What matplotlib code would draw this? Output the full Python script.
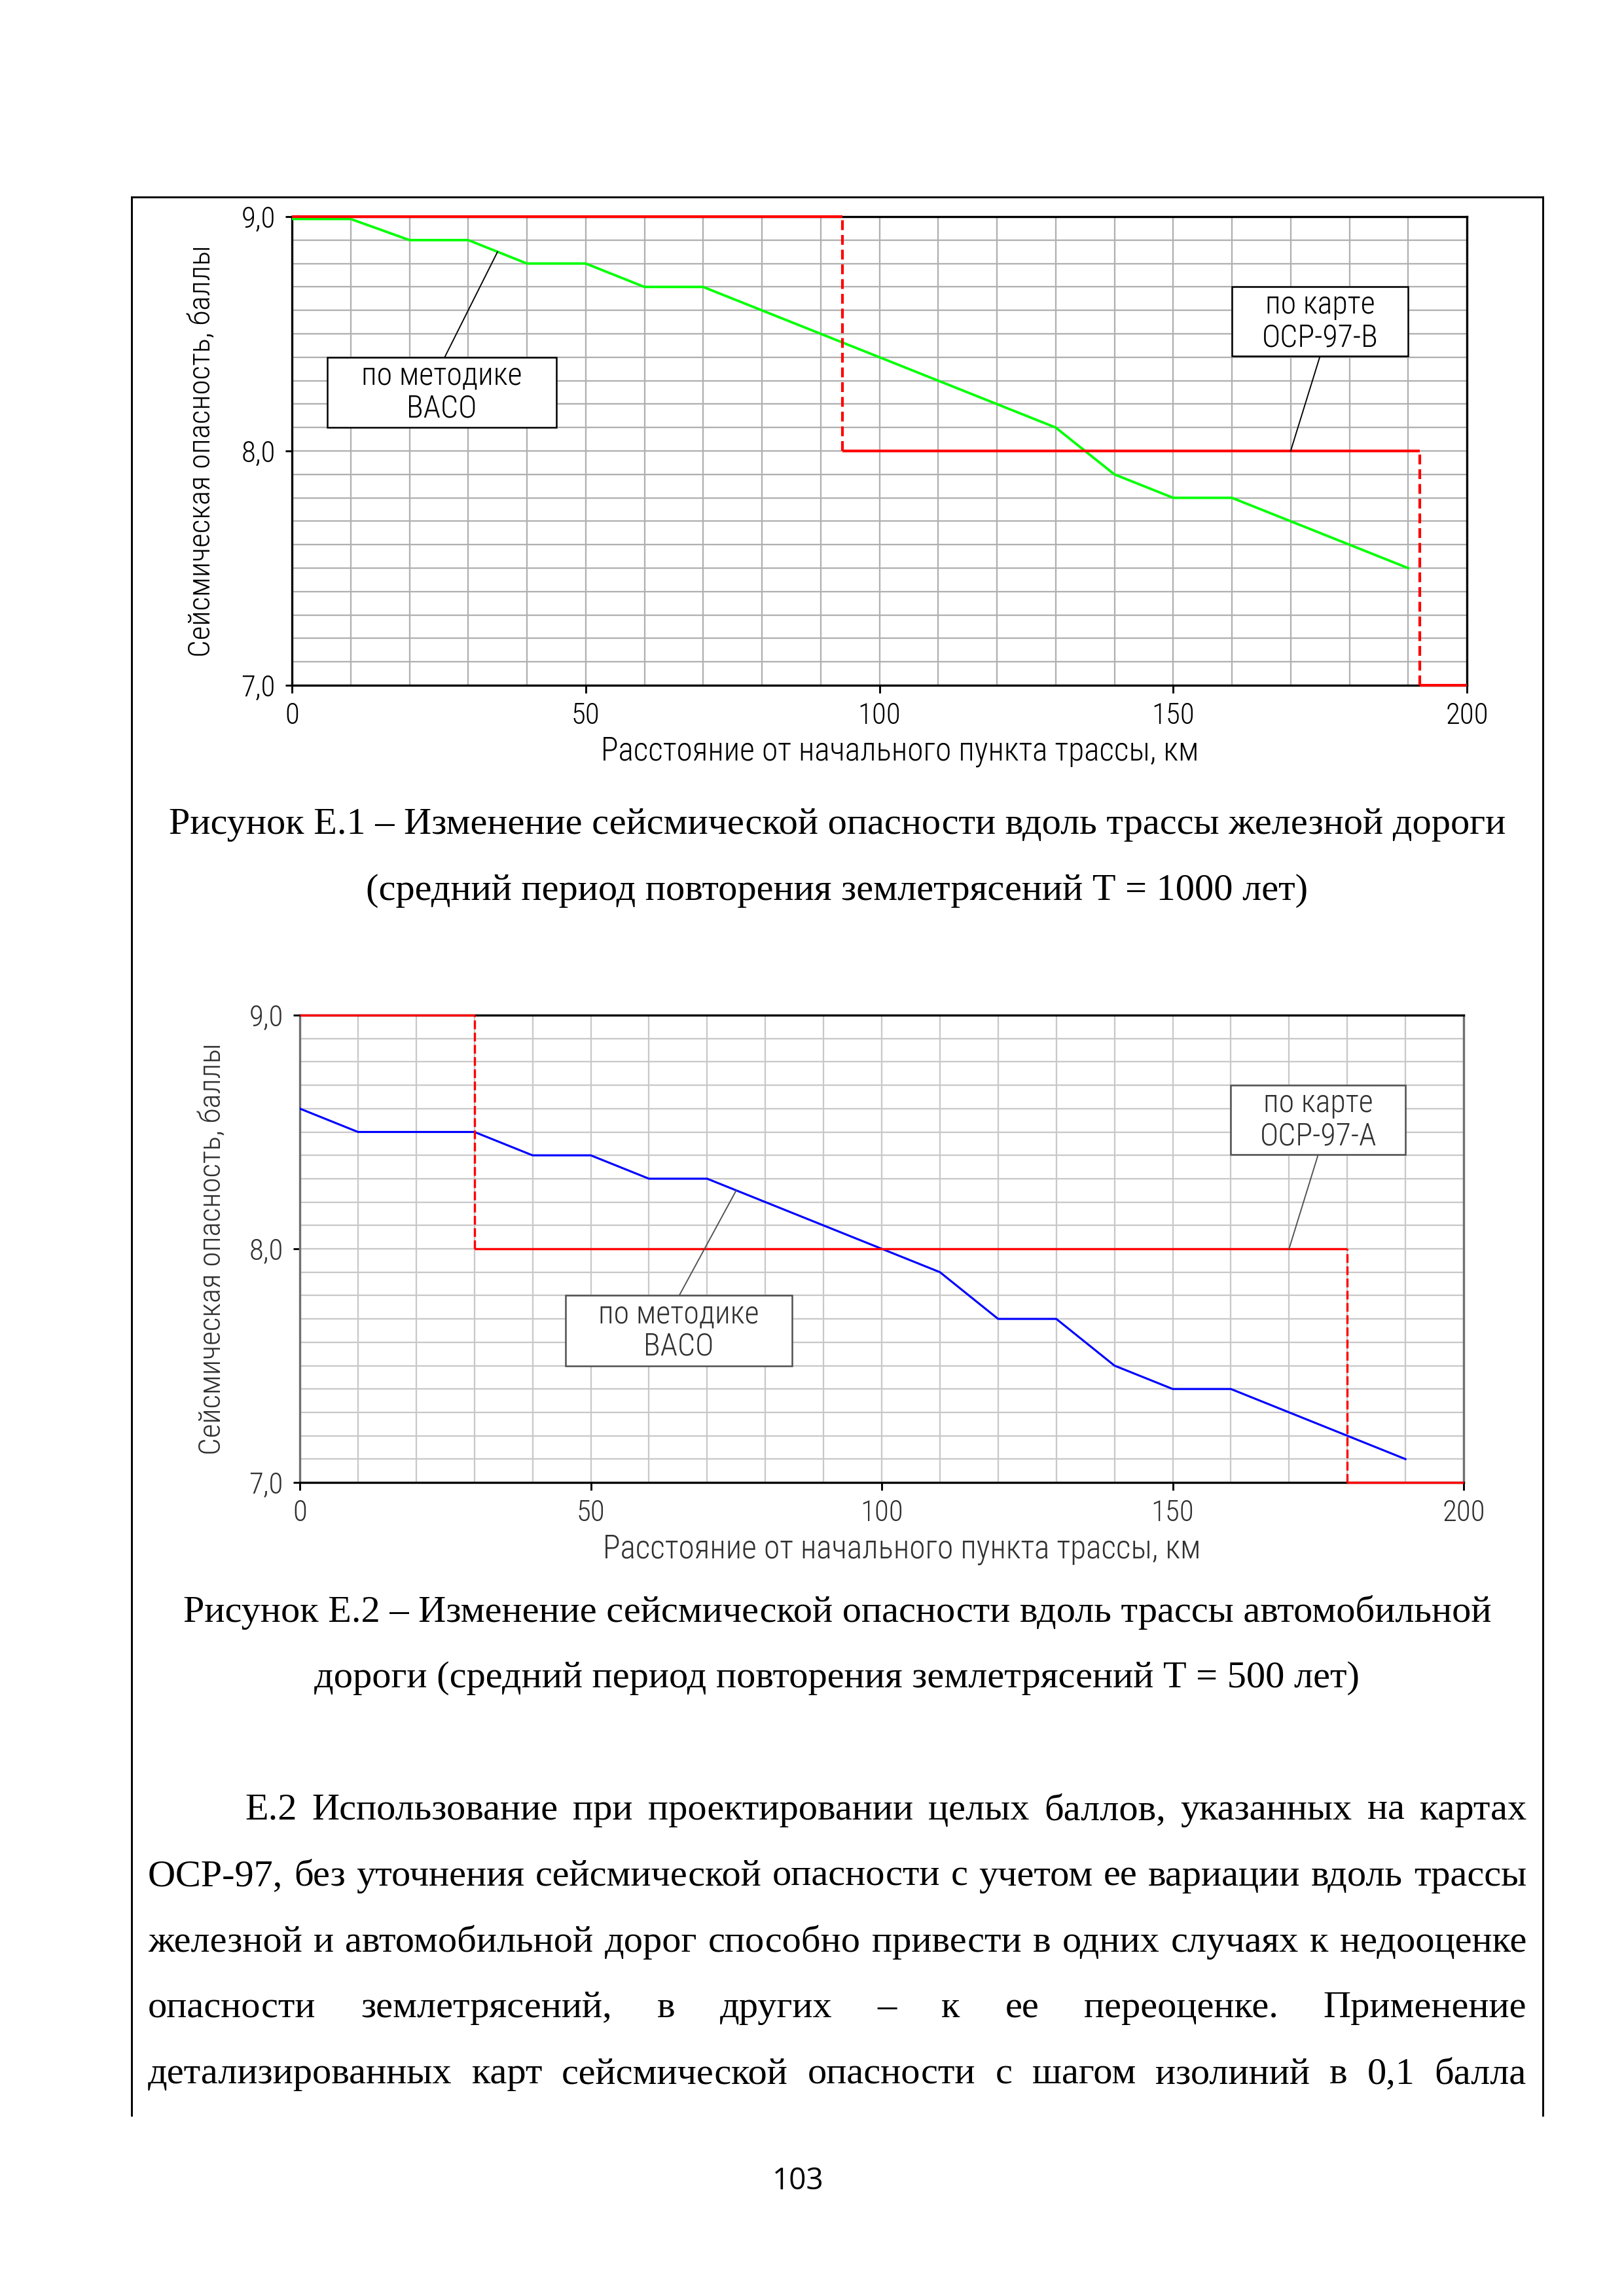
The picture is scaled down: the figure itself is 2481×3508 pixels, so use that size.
import numpy as np
import matplotlib
matplotlib.use("Agg")
import matplotlib.pyplot as plt
from matplotlib import font_manager
from matplotlib.font_manager import FontProperties
from matplotlib.lines import Line2D
from matplotlib.patches import Rectangle

# ------------------------------------------------------------------ data
km = [0, 10, 20, 30, 40, 50, 60, 70, 80, 90, 100,
      110, 120, 130, 140, 150, 160, 170, 180, 190]
hazard_rail = [8.99, 8.99, 8.9, 8.9, 8.8, 8.8, 8.7, 8.7, 8.6, 8.5, 8.4,
               8.3, 8.2, 8.1, 7.9, 7.8, 7.8, 7.7, 7.6, 7.5]          # по методике ВАСО, T=1000
hazard_road = [8.6, 8.5, 8.5, 8.5, 8.4, 8.4, 8.3, 8.3, 8.2, 8.1, 8.0,
               7.9, 7.7, 7.7, 7.5, 7.4, 7.4, 7.3, 7.2, 7.1]          # по методике ВАСО, T=500
osr_b_edges = [0, 93.7, 192, 200]      # ОСР-97-В zones (km)
osr_b_levels = [9.0, 8.0, 7.0]
osr_a_edges = [0, 30, 180, 200]        # ОСР-97-А zones (km)
osr_a_levels = [9.0, 8.0, 7.0]

x_ticks = [0, 50, 100, 150, 200]
x_tick_labels = ["0", "50", "100", "150", "200"]
y_ticks = [7.0, 8.0, 9.0]
y_tick_labels = ["7,0", "8,0", "9,0"]

y_title = "Сейсмическая опасность, баллы"
x_title = "Расстояние от начального пункта трассы, км"
caption1 = ["Рисунок Е.1 – Изменение сейсмической опасности вдоль трассы железной дороги",
            "(средний период повторения землетрясений Т = 1000 лет)"]
caption2 = ["Рисунок Е.2 – Изменение сейсмической опасности вдоль трассы автомобильной",
            "дороги (средний период повторения землетрясений Т = 500 лет)"]
body = ["Е.2 Использование при проектировании целых баллов, указанных на картах",
        "ОСР-97, без уточнения сейсмической опасности с учетом ее вариации вдоль трассы",
        "железной и автомобильной дорог способно привести в одних случаях к недооценке",
        "опасности землетрясений, в других – к ее переоценке. Применение",
        "детализированных карт сейсмической опасности с шагом изолиний в 0,1 балла"]
page_no = "103"

# annotations: (text lines, box x0, x1, y0, y1, leader from (x,y) to (x,y))
notes1 = [(["по методике", "ВАСО"], 6, 45, 8.1, 8.4, (26, 8.4), (35, 8.85)),
          (["по карте", "ОСР-97-В"], 160, 190, 8.405, 8.7, (175, 8.405), (170, 8.0))]
notes2 = [(["по методике", "ВАСО"], 45.7, 84.6, 7.5, 7.8, (65.2, 7.8), (75, 8.25)),
          (["по карте", "ОСР-97-А"], 160, 190, 8.403, 8.7, (175, 8.403), (170, 8.0))]

# ------------------------------------------------------------------ fonts
entries = font_manager.fontManager.ttflist
names = {f.name for f in entries}


def _w(f):
    try:
        return int(f.weight)
    except Exception:
        return {"light": 300, "normal": 400, "regular": 400}.get(str(f.weight), 500)


TECH_FILE = None
pref = ["Liberation Sans Narrow", "Roboto Condensed", "Noto Sans Condensed",
        "Open Sans Condensed", "Noto Sans Display Condensed", "Arimo Narrow"]
for p in pref:
    c = [f for f in entries if f.name == p and f.style == "normal" and 300 <= _w(f) <= 400]
    if c:
        TECH_FILE = sorted(c, key=lambda f: abs(_w(f) - 300))[0].fname
        break
if TECH_FILE is None:
    c = [f for f in entries if f.style == "normal" and 300 <= _w(f) <= 400 and
         (("Condensed" in f.name or "Narrow" in f.name or "condensed" in str(f.stretch)))
         and any(k in f.name for k in ("Noto Sans", "Roboto", "Open Sans", "Liberation", "Lato", "Inter"))
         and "Mono" not in f.name and "CJK" not in f.name]
    if c:
        TECH_FILE = sorted(c, key=lambda f: abs(_w(f) - 300))[0].fname


def tech(size):
    if TECH_FILE:
        return FontProperties(fname=TECH_FILE, size=size)
    return FontProperties(family="Lato" if "Lato" in names else "DejaVu Sans", size=size)


SERIF = "Liberation Serif" if "Liberation Serif" in names else "DejaVu Serif"
SANS = "Open Sans" if "Open Sans" in names else "DejaVu Sans"

W, H, DPI = 2481, 3508, 300
fig = plt.figure(figsize=(W / DPI, H / DPI), dpi=DPI)
fig.patch.set_facecolor("white")


def fx(x):
    return x / W


def fy(y):
    return 1 - y / H


def px_axes(l, r, t, b):
    return [fx(l), fy(b), (r - l) / W, (b - t) / H]


# page frame
for xs, ys in [((201, 201), (301, 3232)), ((201, 2357), (301, 301)), ((2357, 2357), (301, 3232))]:
    fig.add_artist(Line2D([fx(v) for v in xs], [fy(v) for v in ys], color="black",
                          lw=0.7, transform=fig.transFigure))


def setup(ax, grid_color, side_color, txt_color):
    ax.set_xlim(0, 200)
    ax.set_ylim(7, 9)
    ax.set_xticks(x_ticks)
    ax.set_xticklabels(x_tick_labels)
    ax.set_xticks(np.arange(0, 201, 10), minor=True)
    ax.set_yticks(y_ticks)
    ax.set_yticklabels(y_tick_labels)
    ax.set_yticks(np.linspace(7, 9, 21), minor=True)
    ax.grid(which="both", color=grid_color, lw=0.55)
    ax.set_axisbelow(True)
    ax.tick_params(axis="x", which="major", direction="out", length=2.9, width=0.7,
                   pad=3.3, labelcolor=txt_color)
    ax.tick_params(axis="y", which="major", direction="out", length=2.4, width=0.7,
                   pad=3.6, labelcolor=txt_color)
    ax.tick_params(which="minor", length=0)
    for lab in ax.get_xticklabels() + ax.get_yticklabels():
        lab.set_fontproperties(tech(10.8))
    for s in ["top", "bottom"]:
        ax.spines[s].set_color("black")
        ax.spines[s].set_linewidth(0.8)
    for s in ["left", "right"]:
        ax.spines[s].set_color(side_color)
        ax.spines[s].set_linewidth(0.8)


def draw_steps(ax, edges, levels, lw, dashes):
    for i, lev in enumerate(levels):
        ax.hlines(lev, edges[i], edges[i + 1], colors="#ff0000", lw=lw, zorder=5, clip_on=False)
    for i in range(1, len(levels)):
        ax.vlines(edges[i], levels[i], levels[i - 1], colors="#ff0000", lw=lw,
                  linestyles=[(0, dashes)], zorder=5, clip_on=False)


def draw_notes(ax, notes, edge, txt_color):
    for lines, x0, x1, y0, y1, p0, p1 in notes:
        ax.plot([p0[0], p1[0]], [p0[1], p1[1]], color=edge, lw=0.45, zorder=6)
        ax.add_patch(Rectangle((x0, y0), x1 - x0, y1 - y0, facecolor="white",
                               edgecolor=edge, lw=0.6, zorder=7))
        yc = (y0 + y1) / 2
        ax.text((x0 + x1) / 2, yc + 0.07, lines[0], ha="center", va="center",
                fontproperties=tech(11.5), color=txt_color, zorder=8)
        ax.text((x0 + x1) / 2, yc - 0.07, lines[1], ha="center", va="center",
                fontproperties=tech(11.5), color=txt_color, zorder=8)


# ------------------------------------------------------------------ chart 1
ax1 = fig.add_axes(px_axes(446, 2241, 331, 1047))
setup(ax1, "#b0b0b0", "black", "black")
ax1.plot(km, hazard_rail, color="#00ff00", lw=0.9, zorder=4)
draw_steps(ax1, osr_b_edges, osr_b_levels, 1.0, (3.6, 1.8))
draw_notes(ax1, notes1, "black", "black")
fig.text(fx(309), fy(689), y_title, rotation=90, ha="center", va="center",
         fontproperties=tech(11.3))
fig.text(fx(1375), fy(1148), x_title, ha="center", va="center",
         fontproperties=tech(11.9))

# ------------------------------------------------------------------ chart 2
ax2 = fig.add_axes(px_axes(458, 2236, 1551, 2265))
setup(ax2, "#c8c8c8", "#707070", "#303030")
ax2.plot(km, hazard_road, color="#0000ff", lw=0.75, zorder=4)
draw_steps(ax2, osr_a_edges, osr_a_levels, 0.8, (4.0, 1.6))
draw_notes(ax2, notes2, "#505050", "#303030")
fig.text(fx(324), fy(1908), y_title, rotation=90, ha="center", va="center",
         fontproperties=tech(11.3), color="#303030")
fig.text(fx(1378), fy(2367), x_title, ha="center", va="center",
         fontproperties=tech(11.9), color="#303030")

# ------------------------------------------------------------------ captions
for i, line in enumerate(caption1):
    fig.text(fx(1279), fy(1274 + 101 * i), line, ha="center", va="baseline",
             fontsize=14, family=SERIF)
for i, line in enumerate(caption2):
    fig.text(fx(1279), fy(2478 + 100 * i), line, ha="center", va="baseline",
             fontsize=14, family=SERIF)

# ------------------------------------------------------------------ justified body text
renderer = fig.canvas.get_renderer()
LEFT, RIGHT, INDENT = 226, 2332, 374
for i, line in enumerate(body):
    words = line.split(" ")
    yb = fy(2780 + 100.8 * i)
    x0 = INDENT if i == 0 else LEFT
    arts = [fig.text(0, yb, w, ha="left", va="baseline", fontsize=14, family=SERIF) for w in words]
    widths = [a.get_window_extent(renderer).width for a in arts]
    gap = (RIGHT - x0 - sum(widths)) / (len(words) - 1)
    x = x0
    for a, wd in zip(arts, widths):
        a.set_x(fx(x))
        x += wd + gap

fig.text(fx(1219), fy(3345), page_no, ha="center", va="baseline", fontsize=11, family=SANS)

fig.savefig("out.png", dpi=DPI, facecolor="white")
